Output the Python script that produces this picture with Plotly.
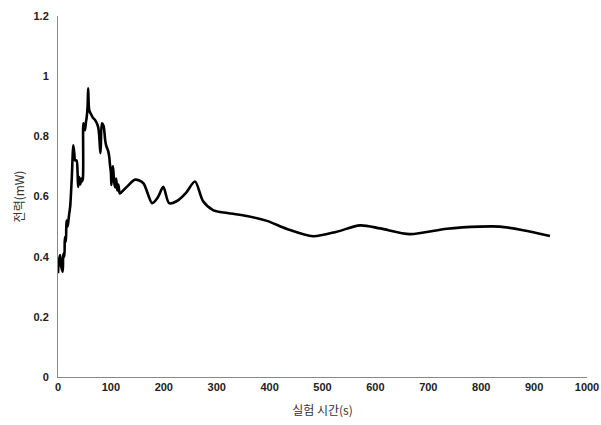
import plotly.graph_objects as go

time_s = [0, 2, 4, 6, 7, 9, 10, 12, 13, 15, 16, 18, 19, 21, 23, 26, 29, 31, 32, 35, 37, 38, 40, 42, 44, 45, 47, 48, 50, 51, 53, 54, 56, 57, 59, 62, 66, 70, 73, 76, 78, 80, 81, 83, 86, 88, 89, 91, 93, 95, 97, 98, 100, 101, 103, 104, 106, 108, 110, 112, 114, 116, 117,
          130, 146, 161, 178, 189, 199, 210, 225, 242, 259, 274, 293, 320, 357, 395, 433, 482, 527, 571, 609, 665, 735, 797, 835, 879, 930]
power_mw = [0.345, 0.39, 0.405, 0.37, 0.36, 0.35, 0.41, 0.40, 0.465, 0.45, 0.52, 0.50, 0.51, 0.54, 0.566, 0.66, 0.77, 0.74, 0.72, 0.72, 0.68, 0.632, 0.665, 0.64, 0.66, 0.65, 0.66, 0.843, 0.83, 0.82, 0.85, 0.86, 0.90, 0.96, 0.887, 0.875, 0.862, 0.854, 0.845, 0.83, 0.80, 0.744, 0.77, 0.843, 0.835, 0.81, 0.79, 0.77, 0.76, 0.75, 0.73, 0.71, 0.68, 0.638, 0.69, 0.70, 0.65, 0.63, 0.66, 0.62, 0.64, 0.615, 0.61,
            0.632, 0.656, 0.645, 0.578, 0.598, 0.632, 0.578, 0.585, 0.612, 0.650, 0.585, 0.555, 0.545, 0.535, 0.519, 0.492, 0.468, 0.483, 0.504, 0.494, 0.475, 0.493, 0.500, 0.500, 0.488, 0.469]

x_ticks = [0, 100, 200, 300, 400, 500, 600, 700, 800, 900, 1000]
y_ticks = [0, 0.2, 0.4, 0.6, 0.8, 1.0, 1.2]
y_tick_labels = ["0", "0.2", "0.4", "0.6", "0.8", "1", "1.2"]

fig = go.Figure()
fig.add_trace(go.Scatter(
    x=time_s, y=power_mw, mode="lines",
    line=dict(color="black", width=2.6, shape="spline", smoothing=0.8),
    showlegend=False, hoverinfo="skip",
))

tick_font = dict(family="Liberation Sans, Arial, sans-serif", size=11, color="#222222", weight="bold")
title_font = dict(family="Noto Sans CJK KR, sans-serif", size=12, color="#333333")

fig.update_layout(
    width=601, height=425,
    margin=dict(l=58, r=14, t=16, b=48),
    paper_bgcolor="white", plot_bgcolor="white",
    xaxis=dict(
        range=[0, 1000], tickvals=x_ticks, ticktext=[str(v) for v in x_ticks],
        showgrid=False, zeroline=False, showline=True, linecolor="#888888", linewidth=1,
        ticks="", tickfont=tick_font, automargin=False,
        title=dict(text="실험 시간(s)", font=title_font, standoff=14),
    ),
    yaxis=dict(
        range=[0, 1.2], tickvals=y_ticks, ticktext=y_tick_labels,
        showgrid=False, zeroline=False, showline=True, linecolor="#888888", linewidth=1,
        ticks="", tickfont=tick_font, ticklabelstandoff=6, automargin=False,
        title=dict(text="전력(mW)", font=title_font, standoff=6),
    ),
)

fig.write_html(
    "out.html",
    config={"displayModeBar": False, "staticPlot": True},
    post_script="document.body.style.margin='0';document.body.style.overflow='hidden';",
)
